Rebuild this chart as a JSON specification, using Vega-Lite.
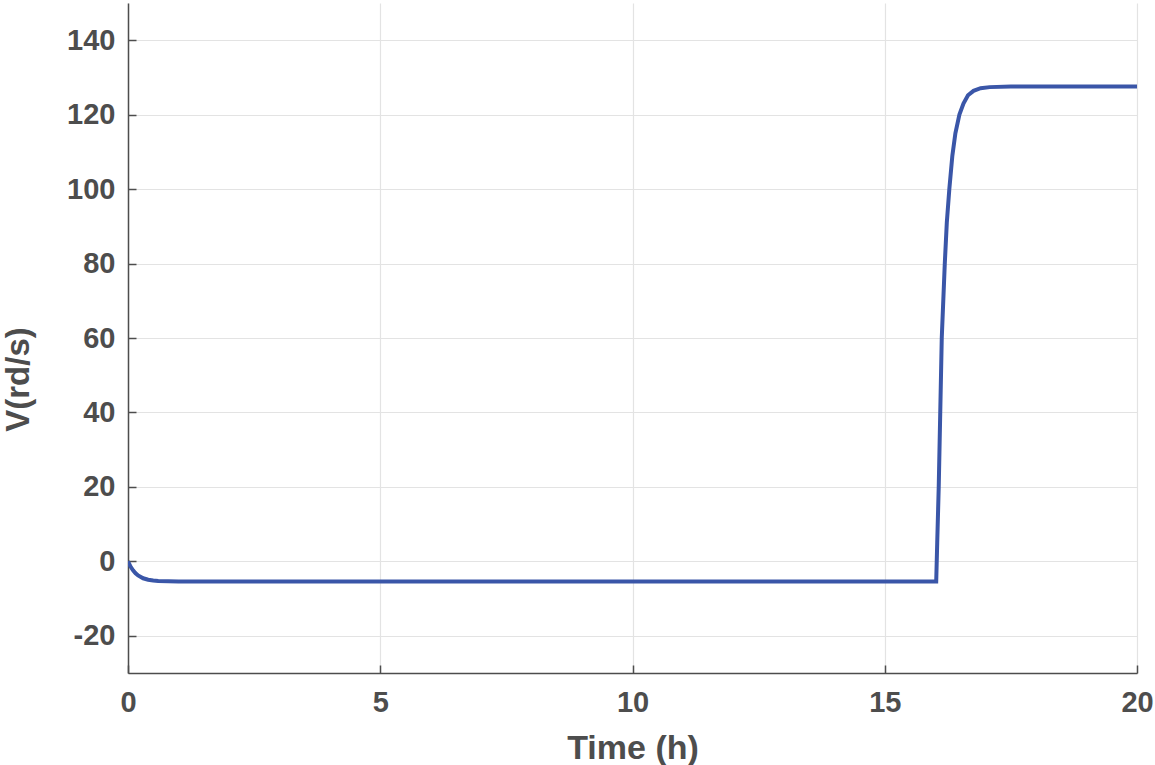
{
  "$schema": "https://vega.github.io/schema/vega-lite/v6.json",
  "width": 1009,
  "height": 670,
  "autosize": {"type": "none"},
  "padding": {"left": 128, "top": 3, "right": 18, "bottom": 92},
  "background": "white",
  "config": {
    "view": {"stroke": null},
    "font": "Liberation Sans"
  },
  "data": {
    "values": [
      {"t": 0, "v": 0},
      {"t": 0.05, "v": -1.4},
      {"t": 0.1, "v": -2.4},
      {"t": 0.15, "v": -3.2},
      {"t": 0.2, "v": -3.8},
      {"t": 0.3, "v": -4.55},
      {"t": 0.4, "v": -4.95},
      {"t": 0.5, "v": -5.15},
      {"t": 0.6, "v": -5.28},
      {"t": 0.8, "v": -5.36},
      {"t": 1.0, "v": -5.4},
      {"t": 16.02, "v": -5.4},
      {"t": 16.04, "v": 5},
      {"t": 16.07, "v": 20},
      {"t": 16.1, "v": 40},
      {"t": 16.13, "v": 60},
      {"t": 16.19, "v": 80},
      {"t": 16.23, "v": 91},
      {"t": 16.28, "v": 100},
      {"t": 16.34, "v": 109},
      {"t": 16.4, "v": 115},
      {"t": 16.48, "v": 120},
      {"t": 16.56, "v": 123},
      {"t": 16.65, "v": 125.2},
      {"t": 16.76, "v": 126.4},
      {"t": 16.9, "v": 127.1},
      {"t": 17.08, "v": 127.4},
      {"t": 17.5, "v": 127.6},
      {"t": 20, "v": 127.6}
    ]
  },
  "mark": {"type": "line", "color": "#3a56a8", "strokeWidth": 4, "clip": true},
  "encoding": {
    "x": {
      "field": "t",
      "type": "quantitative",
      "scale": {"domain": [0, 20], "nice": false, "zero": false},
      "axis": {
        "values": [0, 5, 10, 15, 20],
        "title": "Time (h)",
        "titleFontSize": 34,
        "titleFontWeight": "bold",
        "titleColor": "#4d4d4d",
        "titlePadding": 14,
        "labelFontSize": 29,
        "labelFontWeight": "bold",
        "labelColor": "#4d4d4d",
        "labelPadding": 23,
        "labelFlush": false,
        "tickSize": -8,
        "tickColor": "#4d4d4d",
        "tickWidth": 1.5,
        "domainColor": "#4d4d4d",
        "domainWidth": 1.5,
        "gridColor": "#e3e3e3",
        "gridWidth": 1.2
      }
    },
    "y": {
      "field": "v",
      "type": "quantitative",
      "scale": {"domain": [-30, 150], "nice": false, "zero": false},
      "axis": {
        "values": [-20, 0, 20, 40, 60, 80, 100, 120, 140],
        "labelExpr": "toString(datum.value)",
        "title": "V(rd/s)",
        "titleFontSize": 33,
        "titleFontWeight": "bold",
        "titleColor": "#4d4d4d",
        "titleY": 376,
        "titleX": -93,
        "labelFontSize": 29,
        "labelFontWeight": "bold",
        "labelColor": "#4d4d4d",
        "labelPadding": 21,
        "labelFlush": false,
        "tickSize": -8,
        "tickColor": "#4d4d4d",
        "tickWidth": 1.5,
        "domainColor": "#4d4d4d",
        "domainWidth": 1.5,
        "gridColor": "#e3e3e3",
        "gridWidth": 1.2
      }
    }
  }
}
